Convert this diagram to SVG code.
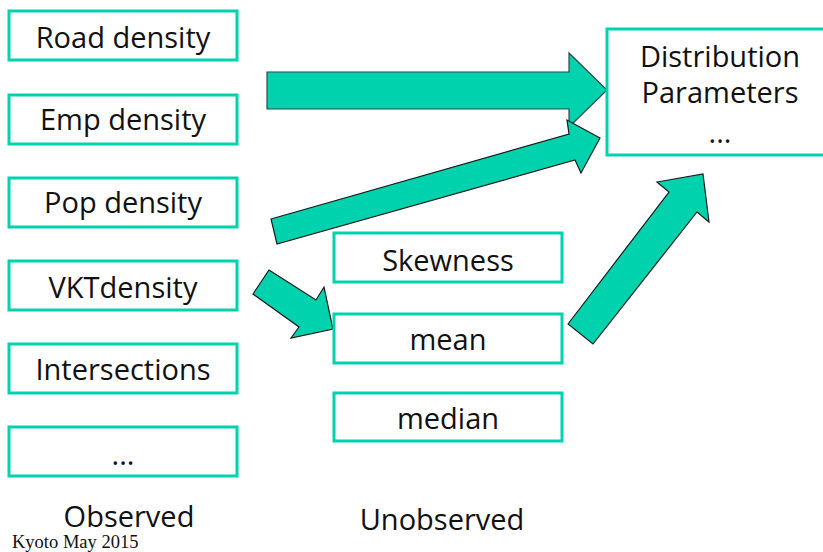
<svg xmlns="http://www.w3.org/2000/svg" width="823" height="552" viewBox="0 0 823 552">
<style>
.box{fill:#fff;stroke:#00D2AD;stroke-width:3}
.t{font-family:"Open Sans","Liberation Sans",sans-serif;font-size:29px;fill:#111;text-anchor:middle}
.arr{fill:#00D2AD;stroke:#1a1a1a;stroke-width:1.2;stroke-linejoin:miter}
.note{font-family:"Liberation Serif",serif;font-size:18.5px;fill:#111}
</style>
<rect width="823" height="552" fill="#fff"/>
<g id="connectors">
<polygon class="arr" style="stroke:#2a4a48" points="267,72 569,72 569,53 607,90 569,127 569,109 267,109"/>
<polygon class="arr" points="271,219 569,134 567,120 600,138 581,173 575,160 277,244"/>
<polygon class="arr" points="269,270 316,300 324,287 333,329 291,338 299,327 253,294"/>
<polygon class="arr" points="568,324 669,192 657,182 703,174 709,222 697,212 593,344"/>
</g>
<g id="road"><rect class="box" x="9" y="11" width="228" height="49"/><text class="t" x="123" y="48">Road density</text></g>
<g id="emp"><rect class="box" x="9" y="95" width="228" height="49"/><text class="t" x="123" y="130">Emp density</text></g>
<g id="pop"><rect class="box" x="9" y="178" width="228" height="49"/><text class="t" x="123" y="213">Pop density</text></g>
<g id="vkt"><rect class="box" x="9" y="261" width="228" height="49"/><text class="t" x="123" y="298">VKTdensity</text></g>
<g id="inter"><rect class="box" x="9" y="344" width="228" height="49"/><text class="t" x="123" y="380">Intersections</text></g>
<g id="more"><rect class="box" x="9" y="427" width="228" height="49"/><text class="t" x="123" y="465">...</text></g>
<g id="skew"><rect class="box" x="334" y="233" width="228" height="49"/><text class="t" x="448" y="271">Skewness</text></g>
<g id="mean"><rect class="box" x="334" y="314" width="228" height="49"/><text class="t" x="448" y="350">mean</text></g>
<g id="median"><rect class="box" x="334" y="393" width="228" height="48"/><text class="t" x="448" y="429">median</text></g>
<g id="dist"><rect class="box" x="607" y="29" width="230" height="126"/><text class="t" x="720" y="67">Distribution</text><text class="t" x="720" y="103">Parameters</text><text class="t" x="720" y="143">...</text></g>
<text class="t" x="129" y="527">Observed</text>
<text class="t" x="442" y="530">Unobserved</text>
<text class="note" x="12" y="548">Kyoto May 2015</text>
</svg>
